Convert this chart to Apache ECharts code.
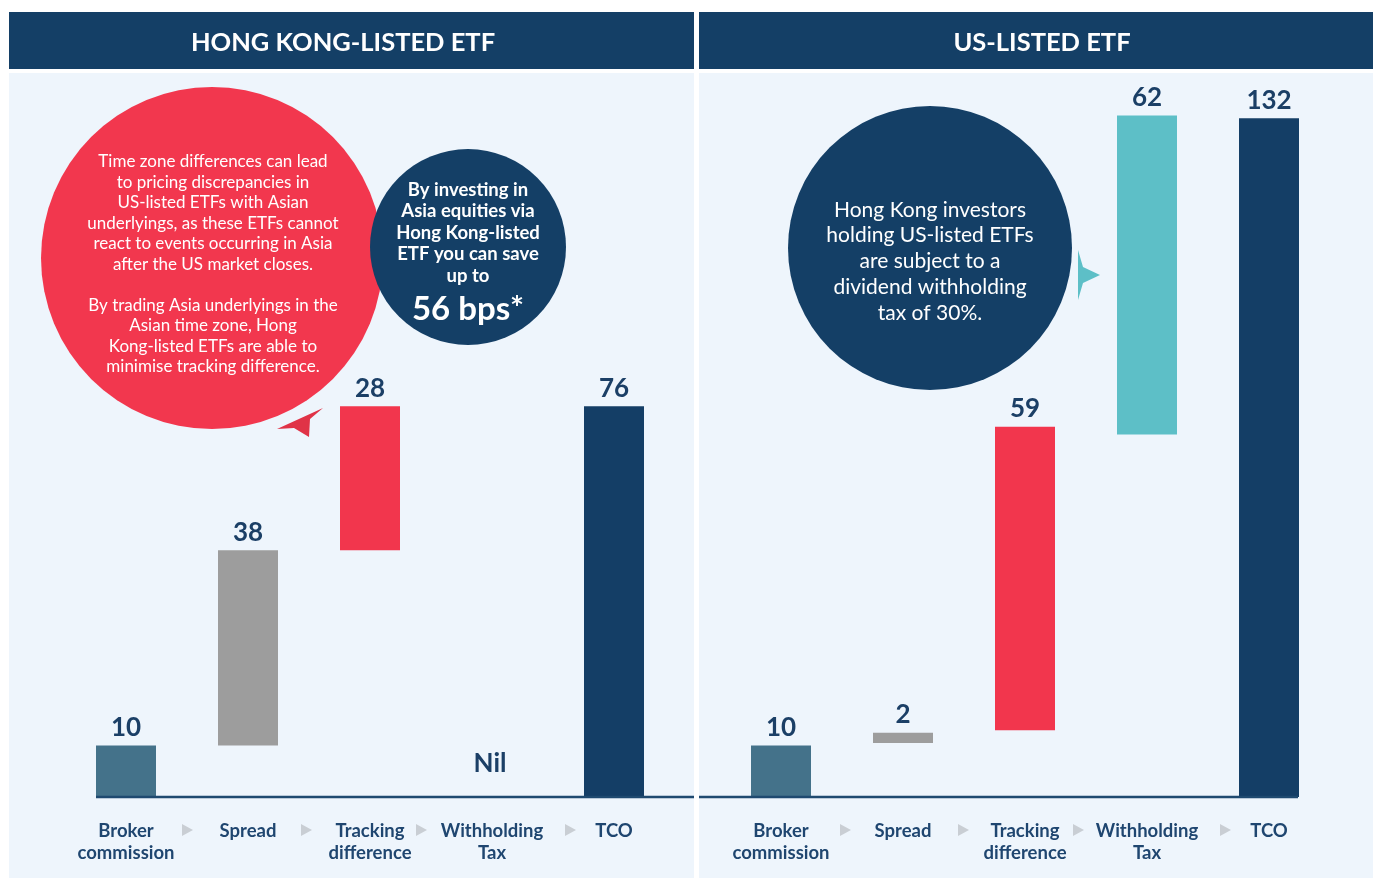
<!DOCTYPE html>
<html>
<head>
<meta charset="utf-8">
<script src="https://cdn.jsdelivr.net/npm/echarts@6/dist/echarts.min.js"></script>
<style>
  html, body { margin: 0; padding: 0; background: #fff; }
  #chart { width: 1373px; height: 878px; }
</style>
</head>
<body>
<div id="chart"></div>
<script>
  // data
  const categories = ['Broker\ncommission', 'Spread', 'Tracking\ndifference', 'Withholding\nTax', 'TCO'];
  const hkValues = [10, 38, 28, 0, 76];
  const hkBase = [0, 10, 48, 0, 0];
  const hkLabels = ['10', '38', '28', 'Nil', '76'];
  const usValues = [10, 2, 59, 62, 132];
  const usBase = [0, 10.5, 13, 70.5, 0];
  const usLabels = ['10', '2', '59', '62', '132'];
  const barColors = ['#44728A', '#9D9D9D', '#F2364D', '#5DBFC7', '#143E66'];

  const FONT = 'Lato, "Open Sans", sans-serif';
  const NAVY = '#143F66';

  const chart = echarts.init(document.getElementById('chart'));

  function baseSeries(idx, base) {
    return {
      type: 'bar', xAxisIndex: idx, yAxisIndex: idx, stack: 's' + idx,
      barWidth: 60, silent: true,
      itemStyle: { color: 'transparent' },
      data: base
    };
  }

  function valueSeries(idx, values, labels) {
    return {
      type: 'bar', xAxisIndex: idx, yAxisIndex: idx, stack: 's' + idx,
      barWidth: 60,
      data: values.map(function (v, i) {
        let item = { value: v, itemStyle: { color: barColors[i] } };
        if (labels[i] === 'Nil') item.label = { offset: [-2, -15] };
        return item;
      }),
      label: {
        show: true, position: 'top', distance: 5,
        fontFamily: FONT, fontWeight: 'bold', fontSize: 26, color: '#1B3F66',
        formatter: function (p) { return labels[p.dataIndex]; }
      }
    };
  }

  function xAxisFor(idx) {
    return {
      type: 'category', gridIndex: idx, data: categories,
      axisLine: { show: false }, axisTick: { show: false },
      axisLabel: {
        interval: 0, margin: 23,
        fontFamily: FONT, fontWeight: 'bold', fontSize: 18.5, lineHeight: 22, color: '#1F4670'
      }
    };
  }

  function yAxisFor(idx) {
    return { type: 'value', gridIndex: idx, min: 0, max: 140, show: false, splitLine: { show: false } };
  }

  // little arrow glyphs between the category names
  function arrow(x, y) {
    return {
      type: 'polygon', z: 5,
      shape: { points: [[x - 5, y - 6], [x + 6, y], [x - 5, y + 6]] },
      style: { fill: '#C9CED4' }
    };
  }

  function txt(x, y, text, font, fill, lh) {
    return {
      type: 'text', z: 6,
      style: {
        x: x, y: y, text: text, font: font, fill: fill,
        textAlign: 'center', textVerticalAlign: 'middle', lineHeight: lh || null
      }
    };
  }

  const option = {
    animation: false,
    backgroundColor: '#fff',
    grid: [
      { left: 65, width: 610, top: 77, bottom: 81 },
      { left: 720, width: 610, top: 77, bottom: 81 }
    ],
    xAxis: [xAxisFor(0), xAxisFor(1)],
    yAxis: [yAxisFor(0), yAxisFor(1)],
    series: [
      baseSeries(0, hkBase), valueSeries(0, hkValues, hkLabels),
      baseSeries(1, usBase), valueSeries(1, usValues, usLabels)
    ],
    graphic: [
      // panels
      { type: 'rect', z: 0, shape: { x: 9, y: 73, width: 685, height: 805 }, style: { fill: '#EEF5FC' } },
      { type: 'rect', z: 0, shape: { x: 699, y: 73, width: 674, height: 805 }, style: { fill: '#EEF5FC' } },
      { type: 'rect', z: 0, shape: { x: 9, y: 12, width: 685, height: 57 }, style: { fill: NAVY } },
      { type: 'rect', z: 0, shape: { x: 699, y: 12, width: 674, height: 57 }, style: { fill: NAVY } },
      txt(343, 43, 'HONG KONG-LISTED ETF', 'bold 25.5px ' + FONT, '#fff'),
      txt(1042, 43, 'US-LISTED ETF', 'bold 25.5px ' + FONT, '#fff'),

      // base lines
      { type: 'line', z: 10, shape: { x1: 96, y1: 797, x2: 694, y2: 797 }, style: { stroke: '#1F4A70', lineWidth: 2.5 } },
      { type: 'line', z: 10, shape: { x1: 699, y1: 797, x2: 1298, y2: 797 }, style: { stroke: '#1F4A70', lineWidth: 2.5 } },

      arrow(187, 830), arrow(306, 830), arrow(421, 830), arrow(570, 830),
      arrow(845, 830), arrow(963, 830), arrow(1078, 830), arrow(1225, 830),

      // red bubble
      { type: 'circle', z: 5, shape: { cx: 212, cy: 258, r: 171 }, style: { fill: '#F2374E' } },
      { type: 'polygon', z: 5, shape: { points: [[277, 429], [323, 408], [310, 419], [309, 437], [294, 428]] }, style: { fill: '#E03347' } },
      txt(213, 264.5,
        'Time zone differences can lead\nto pricing discrepancies in\nUS-listed ETFs with Asian\nunderlyings, as these ETFs cannot\nreact to events occurring in Asia\nafter the US market closes.\n\nBy trading Asia underlyings in the\nAsian time zone, Hong\nKong-listed ETFs are able to\nminimise tracking difference.',
        '17px ' + FONT, '#fff', 20.5),

      // navy bubble, left
      { type: 'circle', z: 5, shape: { cx: 468, cy: 247, r: 98 }, style: { fill: NAVY } },
      txt(468, 233, 'By investing in\nAsia equities via\nHong Kong-listed\nETF you can save\nup to', 'bold 18.5px ' + FONT, '#fff', 21.5),
      txt(468, 309, '56 bps*', 'bold 33px ' + FONT, '#fff'),

      // navy bubble, right
      { type: 'circle', z: 5, shape: { cx: 930, cy: 248, r: 142 }, style: { fill: NAVY } },
      { type: 'polygon', z: 5, shape: { points: [[1078, 250], [1083, 267], [1100, 275], [1083, 283], [1078, 300]] }, style: { fill: '#5DBFC7' } },
      txt(930, 261.5, 'Hong Kong investors\nholding US-listed ETFs\nare subject to a\ndividend withholding\ntax of 30%.', '21px ' + FONT, '#fff', 25.8)
    ]
  };

  chart.setOption(option);
</script>
</body>
</html>
